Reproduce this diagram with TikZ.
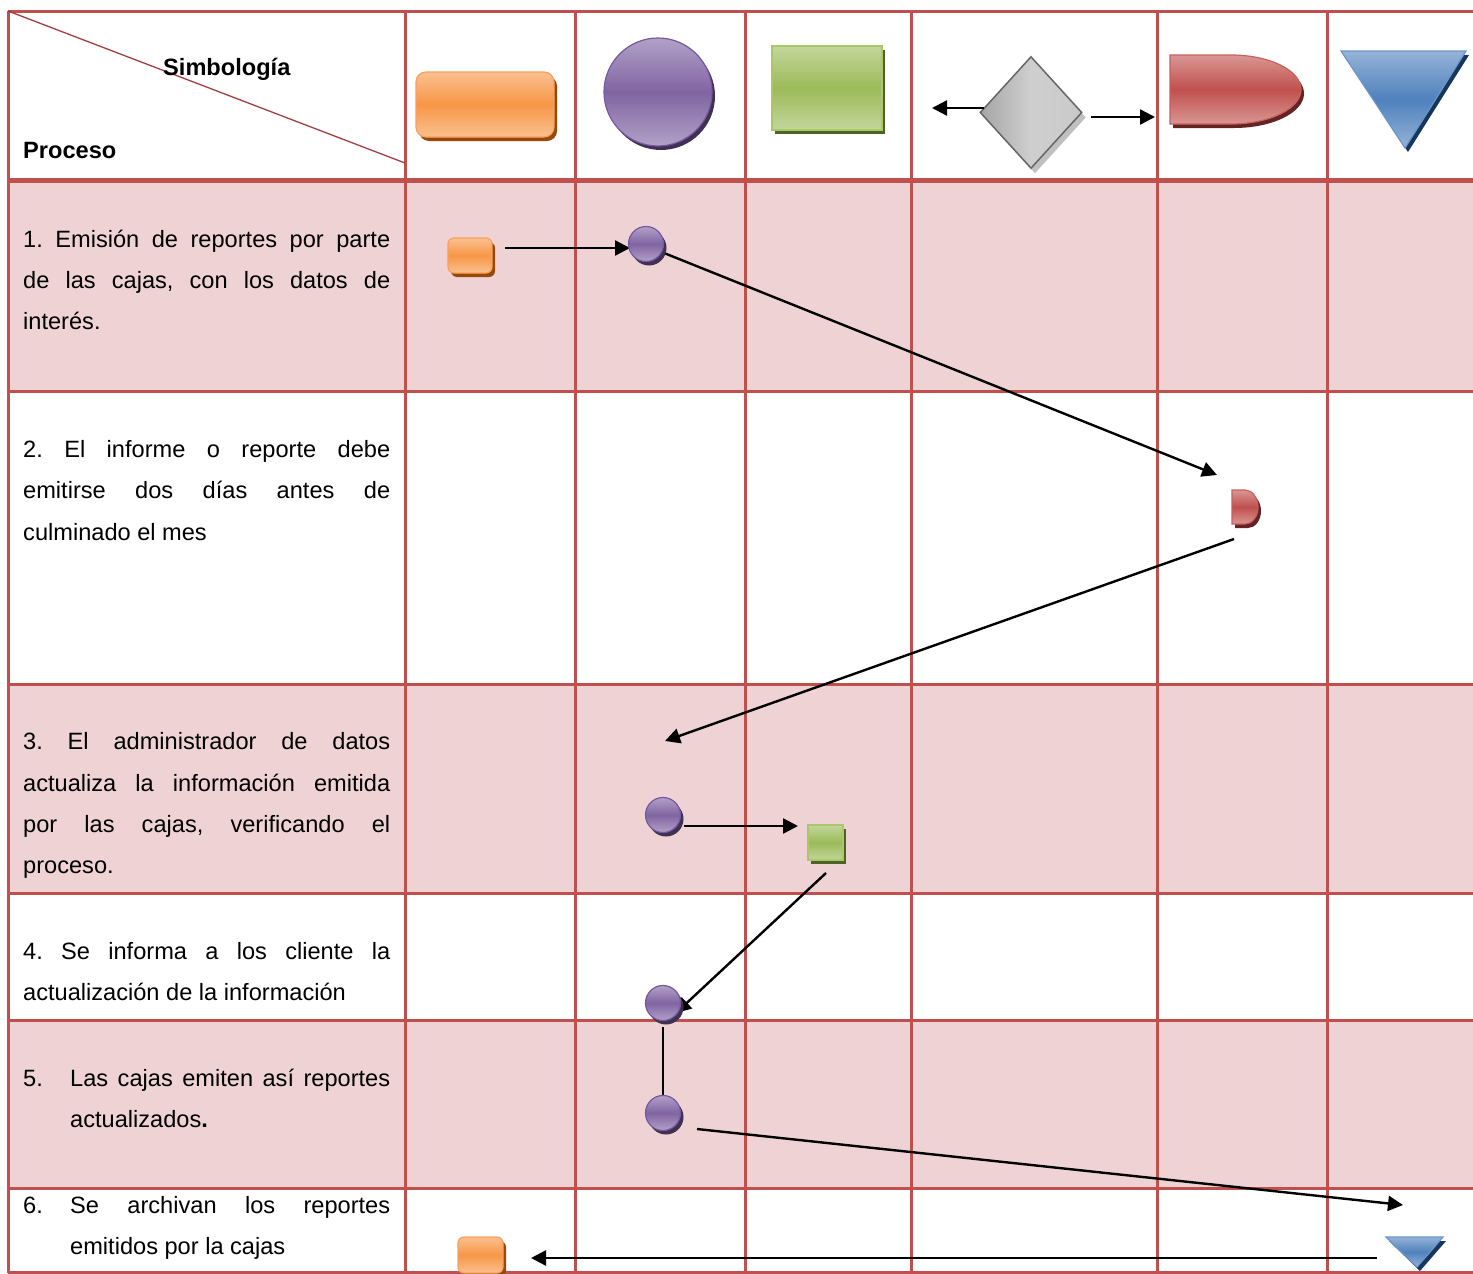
\documentclass[tikz,border=0pt]{standalone}
\usepackage{fontspec}
\setmainfont{Liberation Sans}
\usetikzlibrary{arrows.meta,shapes.geometric,shadows}

\definecolor{gridred}{HTML}{C0504D}
\definecolor{diagred}{HTML}{A0403D}
\definecolor{rowpink}{HTML}{EFD3D4}
\definecolor{ormid}{HTML}{F79646}
\definecolor{orlight}{HTML}{FAC090}
\definecolor{orline}{HTML}{F8A060}
\definecolor{ordark}{HTML}{984807}
\definecolor{pumid}{HTML}{8064A2}
\definecolor{pulight}{HTML}{B2A1C7}
\definecolor{puline}{HTML}{7458A0}
\definecolor{pudark}{HTML}{3F3151}
\definecolor{grmid}{HTML}{9BBB59}
\definecolor{grlight}{HTML}{C3D69B}
\definecolor{grline}{HTML}{A8C86A}
\definecolor{grdark}{HTML}{4F6228}
\definecolor{remid}{HTML}{C0504D}
\definecolor{relight}{HTML}{D99694}
\definecolor{reline}{HTML}{C8605D}
\definecolor{redark}{HTML}{632423}
\definecolor{blmid}{HTML}{4F81BD}
\definecolor{bllight}{HTML}{95B3D7}
\definecolor{blline}{HTML}{6A96CC}
\definecolor{bldark}{HTML}{17365D}
\definecolor{gyline}{HTML}{666666}
\definecolor{gyshadow}{HTML}{C0C0C0}

% a justified line of a given width
\newcommand\jline[2]{\makebox[#1][s]{#2}}

\begin{document}
\frenchspacing
\begin{tikzpicture}[x=1pt,y=-1pt,
  grid/.style={draw=gridred, line width=3},
  conn/.style={draw=black, line width=2.4, -{Triangle[length=15pt,width=15pt]}},
  plain/.style={draw=black, line width=2.4},
  txt/.style={anchor=base west, inner sep=0, font=\fontsize{23.6}{41}\selectfont},
  hdr/.style={anchor=base west, inner sep=0, font=\fontsize{23.6}{28}\selectfont\bfseries},
  shad/.style={drop shadow={shadow xshift=3pt, shadow yshift=-4pt, fill=#1, opacity=1}},
  obox/.style={rectangle, rounded corners=#1, draw=orline, line width=1.2,
    top color=orlight, bottom color=orlight, middle color=ormid, inner sep=0, shad=ordark},
  obox/.default=6,
  pcirc/.style={circle, draw=puline, line width=1.2,
    top color=pulight, bottom color=pulight, middle color=pumid, inner sep=0, shad=pudark},
  gbox/.style={rectangle, draw=grline, line width=1.5,
    top color=grlight, bottom color=grlight, middle color=grmid, inner sep=0, shad=grdark},
  dshape/.style={draw=reline, line width=1.2,
    top color=relight, bottom color=relight, middle color=remid, shad=redark},
  tshape/.style={draw=blline, line width=1.2,
    top color=bllight, bottom color=bllight, middle color=blmid, shad=bldark},
]
\useasboundingbox (0,0) rectangle (1473,1274);
\clip (0,0) rectangle (1473,1274);

% shaded rows
\fill[rowpink] (8,180) rectangle (1473,391);
\fill[rowpink] (8,684) rectangle (1473,893);
\fill[rowpink] (8,1020) rectangle (1473,1188);

% table rules
\foreach \yy in {11,391,684,893,1020,1188,1272}
  \draw[grid] (8,\yy) -- (1473,\yy);
\draw[grid, line width=5] (8,180) -- (1473,180);
\foreach \xx in {8,405,575,745,911,1157,1327}
  \draw[grid] (\xx,11) -- (\xx,1273);

% header cell
\draw[diagred, line width=1.3] (8,11) -- (405,163);
\node[hdr] (simb) at (163,75) {Simbología};
\node[hdr] (proc) at (23,158) {Proceso};

% symbol legend
\node[obox=10, minimum width=138, minimum height=65] (lgterm) at (485,104.5) {};
\node[pcirc, minimum size=108] (lgcirc) at (658,92) {};
\node[gbox, minimum width=110, minimum height=84] (lgrect) at (827,88) {};
\node[diamond, draw=gyline, line width=1.5, inner sep=0, minimum width=102, minimum height=112,
  left color=gray!70, right color=gray!42, middle color=gray!38,
  drop shadow={shadow xshift=4pt, shadow yshift=-5pt, fill=gyshadow, opacity=1}] (lgdiam) at (1031,112.5) {};
\coordinate (lgla) at (984,108);
\coordinate (lglb) at (932,108);
\coordinate (lgra) at (1091,117);
\coordinate (lgrb) at (1155,117);
\draw[conn] (lgla) -- (lglb);
\draw[conn] (lgra) -- (lgrb);
\path[dshape] (1170,55) -- (1231,55) arc[start angle=-90, end angle=90, x radius=70, y radius=34.5] -- (1170,124) -- cycle;
\coordinate (lgdelay) at (1231,89.5);
\path[tshape] (1341,51) -- (1466,51) -- (1405,148) -- cycle;
\coordinate (lgstore) at (1405,83);

% process descriptions
\node[txt] (t1a) at (23,247) {\jline{367pt}{1. Emisión de reportes por parte}};
\node[txt] (t1b) at (23,288) {\jline{367pt}{de las cajas, con los datos de}};
\node[txt] (t1c) at (23,329) {interés.};

\node[txt] (t2a) at (23,457) {\jline{367pt}{2. El informe o reporte debe}};
\node[txt] (t2b) at (23,498) {\jline{367pt}{emitirse dos días antes de}};
\node[txt] (t2c) at (23,540) {culminado el mes};

\node[txt] (t3a) at (23,749) {\jline{367pt}{3. El administrador de datos}};
\node[txt] (t3b) at (23,791) {\jline{367pt}{actualiza la información emitida}};
\node[txt] (t3c) at (23,832) {\jline{367pt}{por las cajas, verificando el}};
\node[txt] (t3d) at (23,873) {proceso.};

\node[txt] (t4a) at (23,959) {\jline{367pt}{4. Se informa a los cliente la}};
\node[txt] (t4b) at (23,1000) {actualización de la información};

\node[txt] (t5n) at (23,1086) {5.};
\node[txt] (t5a) at (70,1086) {\jline{320pt}{Las cajas emiten así reportes}};
\node[txt] (t5b) at (70,1127) {actualizados\textbf{.}};

\node[txt] (t6n) at (23,1213) {6.};
\node[txt] (t6a) at (70,1213) {\jline{320pt}{Se archivan los reportes}};
\node[txt] (t6b) at (70,1254) {emitidos por la cajas};

% connector ends
\coordinate (f1a) at (505,248);
\coordinate (f1b) at (630,248);
\coordinate (f2a) at (664,253);
\coordinate (f2b) at (1217,475);
\coordinate (f3a) at (1234,539);
\coordinate (f3b) at (665,741);
\coordinate (f4a) at (684,826);
\coordinate (f4b) at (798,826);
\coordinate (f5a) at (826,873);
\coordinate (f5b) at (676,1013);
\coordinate (f6a) at (663,1027);
\coordinate (f6b) at (663,1095);
\coordinate (f7a) at (697,1129);
\coordinate (f7b) at (1403,1205);
\coordinate (f8a) at (1377,1258);
\coordinate (f8b) at (531,1258);

% flow connectors
\draw[conn] (f1a) -- (f1b);
\draw[conn] (f2a) -- (f2b);
\draw[conn] (f3a) -- (f3b);
\draw[conn] (f4a) -- (f4b);
\draw[conn] (f5a) -- (f5b);
\draw[plain] (f6a) -- (f6b);
\draw[conn] (f7a) -- (f7b);
\draw[conn] (f8a) -- (f8b);

% flow symbols
\node[obox, minimum width=44, minimum height=35] (s1) at (470,255.5) {};
\node[pcirc, minimum size=35] (c1) at (646,244) {};
\path[dshape] (1232,490) -- (1245,490) arc[start angle=-90, end angle=90, x radius=13, y radius=17] -- (1232,524) -- cycle;
\coordinate (d2) at (1245,507);
\node[pcirc, minimum size=35] (c3) at (663,815) {};
\node[gbox, minimum width=35, minimum height=35] (g3) at (825.5,842.5) {};
\node[pcirc, minimum size=35] (c4) at (663,1003) {};
\node[pcirc, minimum size=35] (c5) at (663,1113) {};
\path[tshape] (1386,1237) -- (1443,1237) -- (1417,1267) -- cycle;
\coordinate (v6) at (1415,1247);
\node[obox, minimum width=45, minimum height=36] (s6) at (480.5,1255) {};
\end{tikzpicture}
\end{document}
